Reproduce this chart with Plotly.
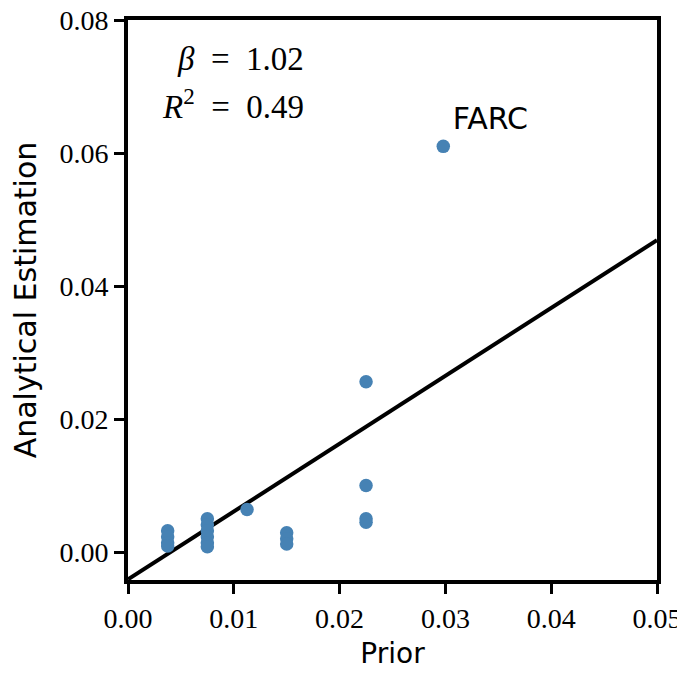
import plotly.graph_objects as go

prior = [0.00375, 0.00375, 0.00375, 0.00375,
         0.0075, 0.0075, 0.0075, 0.0075, 0.0075, 0.0075,
         0.01125,
         0.015, 0.015, 0.015,
         0.0225, 0.0225, 0.0225, 0.0225,
         0.0298]
estimation = [0.0032, 0.0023, 0.0014, 0.0009,
              0.0050, 0.0041, 0.0032, 0.0023, 0.0014, 0.0008,
              0.0064,
              0.0029, 0.0020, 0.0012,
              0.0256, 0.0100, 0.0050, 0.0045,
              0.0610]
labels = [""] * 18 + ["FARC"]
beta = 1.02
intercept = -0.0041
r2 = 0.49
x_range = [0.0, 0.05]
y_range = [-0.0042, 0.08]
x_ticks = [0.0, 0.01, 0.02, 0.03, 0.04, 0.05]
y_ticks = [0.0, 0.02, 0.04, 0.06, 0.08]

serif = "Liberation Serif, DejaVu Serif, serif"
sans = "DejaVu Sans, Open Sans, sans-serif"

fig = go.Figure()
fig.add_trace(go.Scatter(
    x=x_range, y=[intercept + beta * v for v in x_range],
    mode="lines", line=dict(color="black", width=4), showlegend=False))
fig.add_trace(go.Scatter(
    x=prior, y=estimation, mode="markers+text",
    marker=dict(color="#4682B4", size=13.5),
    text=labels, textposition="top right",
    textfont=dict(family=sans, size=30, color="black"),
    showlegend=False))

fig.add_annotation(x=0.0168, y=0.0742, xref="x", yref="y", xanchor="right", yanchor="middle",
                   text=f"<i>β</i>  =  {beta:.2f}", showarrow=False,
                   font=dict(family=serif, size=33, color="black"))
fig.add_annotation(x=0.0168, y=0.0673, xref="x", yref="y", xanchor="right", yanchor="middle",
                   text=f"<i>R</i><sup>2</sup>  =  {r2:.2f}", showarrow=False,
                   font=dict(family=serif, size=33, color="black"))

axis_common = dict(showline=True, linecolor="black", linewidth=4, mirror=True,
                   ticks="outside", ticklen=10, tickwidth=3, tickcolor="black",
                   showgrid=False, zeroline=False, automargin=False,
                   ticklabeloverflow="allow",
                   tickfont=dict(family=serif, size=28, color="black"))
fig.update_xaxes(range=x_range, tickvals=x_ticks, ticktext=[f"{v:.2f}" for v in x_ticks],
                 title=dict(text="Prior", font=dict(family=sans, size=28, color="black"), standoff=12),
                 **axis_common)
fig.update_yaxes(range=y_range, tickvals=y_ticks, ticktext=[f"{v:.2f}" for v in y_ticks],
                 title=dict(text="Analytical Estimation", font=dict(family=sans, size=30, color="black"), standoff=19),
                 **axis_common)
fig.update_layout(width=677, height=670, margin=dict(l=120, r=28, t=12, b=98),
                  plot_bgcolor="white", paper_bgcolor="white")
fig.write_html("out.html")
